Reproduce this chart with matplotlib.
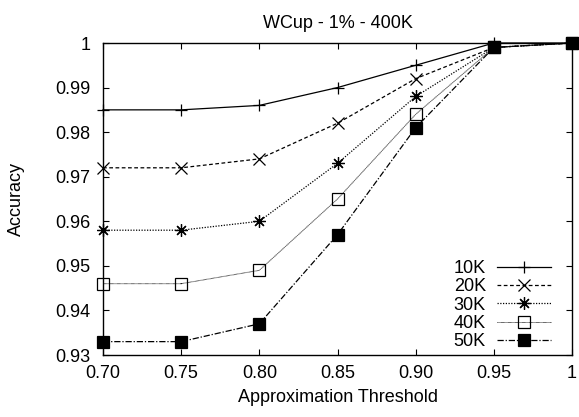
import matplotlib
matplotlib.use("Agg")
import matplotlib.pyplot as plt

plt.rcParams['font.family'] = ['Liberation Sans', 'DejaVu Sans']

thresholds = [0.70, 0.75, 0.80, 0.85, 0.90, 0.95, 1.00]
xtick_labels = ["0.70", "0.75", "0.80", "0.85", "0.90", "0.95", "1"]
yticks = [0.93, 0.94, 0.95, 0.96, 0.97, 0.98, 0.99, 1.00]
ytick_labels = ["0.93", "0.94", "0.95", "0.96", "0.97", "0.98", "0.99", "1"]

acc_10k = [0.985, 0.985, 0.986, 0.990, 0.995, 1.000, 1.000]
acc_20k = [0.972, 0.972, 0.974, 0.982, 0.992, 0.999, 1.000]
acc_30k = [0.958, 0.958, 0.960, 0.973, 0.988, 0.999, 1.000]
acc_40k = [0.946, 0.946, 0.949, 0.965, 0.984, 0.999, 1.000]
acc_50k = [0.933, 0.933, 0.937, 0.957, 0.981, 0.999, 1.000]

series_labels = ["10K", "20K", "30K", "40K", "50K"]
series = [acc_10k, acc_20k, acc_30k, acc_40k, acc_50k]

styles = [
    dict(linestyle='-', marker='+', markersize=9, mfc='black', mec='black', lw=0.9),
    dict(linestyle=(0, (3, 2)), marker='x', markersize=8, mfc='black', mec='black', lw=0.9),
    dict(linestyle=(0, (1, 1.2)), marker=(8, 2, 0), markersize=9, mfc='black', mec='black', lw=0.9),
    dict(linestyle=(0, (0.6, 0.6)), marker='s', markersize=8, mfc='none', mec='black', lw=0.7),
    dict(linestyle=(0, (5, 1.5, 1, 1.5)), marker='s', markersize=8, mfc='black', mec='black', lw=0.9),
]

fig = plt.figure(figsize=(5.79, 4.17), dpi=100)
ax = fig.add_axes([103/579, 1 - 355/417, (572 - 103)/579, (355 - 43)/417])

for lab, vals, st in zip(series_labels, series, styles):
    ax.plot(thresholds, vals, color='black', label=lab, clip_on=False,
            markeredgewidth=0.9, **st)

ax.set_xlim(0.70, 1.00)
ax.set_ylim(0.93, 1.00)
ax.set_xticks(thresholds)
ax.set_xticklabels(xtick_labels)
ax.set_yticks(yticks)
ax.set_yticklabels(ytick_labels)
ax.tick_params(direction='in', top=True, right=True, length=4, width=0.8,
               labelsize=13)
ax.tick_params(axis='y', pad=9)
ax.tick_params(axis='x', pad=7)
for sp in ax.spines.values():
    sp.set_linewidth(1.0)

ax.set_xlabel("Approximation Threshold", fontsize=13, labelpad=5)
ax.set_ylabel("Accuracy", fontsize=13, labelpad=22)
ax.set_title("WCup - 1% - 400K", fontsize=13, pad=11)

leg = ax.legend(loc='lower right', bbox_to_anchor=(0.982, -0.025), frameon=False,
                markerfirst=False, fontsize=13, handlelength=3.0,
                handletextpad=0.6, labelspacing=0.07, borderpad=0.2)

fig.savefig("out.png", dpi=100)
